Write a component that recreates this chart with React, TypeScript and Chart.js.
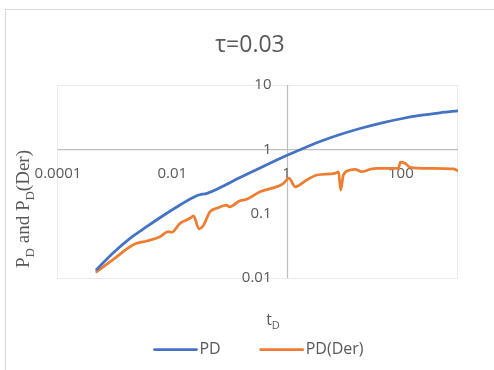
import React, { useEffect, useRef } from "react";
import { Chart, registerables } from "chart.js";

Chart.register(...registerables);

// ---- data ----
const T_PD = [0.000475, 0.000929, 0.00182, 0.00356, 0.00697, 0.01364, 0.0267, 0.0305, 0.0406, 0.153, 0.343, 1.0, 1.72, 3.85, 8.61, 19.3, 43.2, 96.6, 216, 484, 1000];
const PD = [0.01355, 0.0247, 0.0414, 0.0627, 0.0936, 0.1364, 0.19, 0.197, 0.207, 0.365, 0.513, 0.8, 0.987, 1.324, 1.7, 2.11, 2.54, 2.96, 3.36, 3.7, 3.97];

const T_DER = [0.000475, 0.000929, 0.00182, 0.00238, 0.00356, 0.0061, 0.00851, 0.00977, 0.01364, 0.0204, 0.0235, 0.0294, 0.0345, 0.0457, 0.0598, 0.0895, 0.0995, 0.153, 0.2, 0.343, 0.767, 0.9, 1.1, 1.41, 2.25, 3.37, 7.05, 8.11, 8.87, 9.85, 12.9, 15.8, 20.7, 28.8, 37.8, 90.3, 98.6, 118, 145, 324, 828, 1000];
const DER = [0.01253, 0.0195, 0.0306, 0.0346, 0.0376, 0.0438, 0.0525, 0.0513, 0.0708, 0.0847, 0.092, 0.0578, 0.0643, 0.107, 0.121, 0.136, 0.128, 0.159, 0.167, 0.219, 0.274, 0.3, 0.358, 0.262, 0.333, 0.399, 0.424, 0.445, 0.233, 0.399, 0.477, 0.489, 0.449, 0.489, 0.507, 0.507, 0.635, 0.607, 0.526, 0.507, 0.495, 0.466];

const SERIES_LABELS = ["PD", "PD(Der)"];
const X_TICKS = [0.0001, 0.01, 1, 100];
const X_TICK_LABELS = ["0.0001", "0.01", "1", "100"];
const Y_TICKS = [0.01, 0.1, 1, 10];
const Y_TICK_LABELS = ["0.01", "0.1", "1", "10"];
const X_MIN = 0.0001;
const X_MAX = 1000;
const Y_MIN = 0.01;
const Y_MAX = 10;
const X_CROSS = 1;
const Y_CROSS = 1;
const TITLE = "τ=0.03";

const TEXT = "#595959";
const SANS = "'Open Sans', sans-serif";
const SERIF = "'Liberation Serif', 'DejaVu Serif', serif";

function drawRuns(ctx: CanvasRenderingContext2D, runs: [string, boolean][], size: number, fam: string, cx: number, cy: number) {
  const sub = Math.round(size * 0.68);
  let total = 0;
  for (const [t, s] of runs) {
    ctx.font = `${s ? sub : size}px ${fam}`;
    total += ctx.measureText(t).width;
  }
  let x = cx - total / 2;
  ctx.textAlign = "left";
  ctx.textBaseline = "alphabetic";
  for (const [t, s] of runs) {
    ctx.font = `${s ? sub : size}px ${fam}`;
    ctx.fillText(t, x, cy + (s ? size * 0.28 : 0));
    x += ctx.measureText(t).width;
  }
}

const overlay = {
  id: "overlay",
  beforeDatasetsDraw(chart: any) {
    const { ctx, chartArea: a, scales } = chart;
    const xs = scales.x;
    const ys = scales.y;
    ctx.save();
    // outer chart border
    ctx.strokeStyle = "#d9d9d9";
    ctx.lineWidth = 1;
    ctx.strokeRect(5.5, 9.5, 700, 700);
    // plot area border
    ctx.strokeStyle = "#ebebeb";
    ctx.strokeRect(a.left - 0.5, a.top + 0.5, a.right - a.left, a.bottom - a.top);
    // axis lines crossing at 1
    const x0 = Math.round(xs.getPixelForValue(X_CROSS)) + 0.5;
    const y0 = Math.round(ys.getPixelForValue(Y_CROSS)) + 0.5;
    ctx.strokeStyle = "#bfbfbf";
    ctx.lineWidth = 1.25;
    ctx.beginPath();
    ctx.moveTo(x0, a.top);
    ctx.lineTo(x0, a.bottom);
    ctx.moveTo(a.left, y0);
    ctx.lineTo(a.right, y0);
    ctx.stroke();
    // tick labels
    ctx.fillStyle = TEXT;
    ctx.font = `15px ${SANS}`;
    ctx.textAlign = "center";
    ctx.textBaseline = "middle";
    X_TICKS.forEach((v, i) => {
      ctx.fillText(X_TICK_LABELS[i], xs.getPixelForValue(v), y0 + 24);
    });
    ctx.textAlign = "right";
    Y_TICKS.forEach((v, i) => {
      ctx.fillText(Y_TICK_LABELS[i], x0 - 16, ys.getPixelForValue(v));
    });
    ctx.restore();
  },
  afterDraw(chart: any) {
    const { ctx, chartArea: a } = chart;
    ctx.save();
    ctx.fillStyle = TEXT;
    // title
    ctx.font = `23px ${SANS}`;
    ctx.textAlign = "center";
    ctx.textBaseline = "middle";
    ctx.fillText(TITLE, 250, 45);
    // x axis title t_D
    drawRuns(ctx, [["t", false], ["D", true]], 16, SANS, 273, 325);
    // y axis title
    ctx.save();
    ctx.translate(29, 209);
    ctx.rotate(-Math.PI / 2);
    drawRuns(ctx, [["P", false], ["D", true], [" and P", false], ["D", true], ["(Der)", false]], 19, SERIF, 0, 0);
    ctx.restore();
    // legend
    ctx.font = `16px ${SANS}`;
    const lineW = 42;
    const gap = 3;
    const spacing = 40;
    const widths = chart.data.datasets.map((d: any) => lineW + gap + ctx.measureText(d.label).width);
    const total = widths.reduce((s: number, w: number) => s + w, 0) + spacing * (widths.length - 1);
    let lx = (a.left + a.right) / 2 - total / 2 + 1;
    const ly = 349.5;
    chart.data.datasets.forEach((d: any, i: number) => {
      ctx.strokeStyle = d.borderColor;
      ctx.lineWidth = 2.75;
      ctx.lineCap = "round";
      ctx.beginPath();
      ctx.moveTo(lx, ly);
      ctx.lineTo(lx + lineW, ly);
      ctx.stroke();
      ctx.fillStyle = TEXT;
      ctx.textAlign = "left";
      ctx.textBaseline = "middle";
      ctx.fillText(d.label, lx + lineW + gap, ly);
      lx += widths[i] + spacing;
    });
    ctx.restore();
  },
};

export default function App() {
  const ref = useRef<HTMLCanvasElement | null>(null);
  useEffect(() => {
    if (!ref.current) return;
    const chart = new Chart(ref.current, {
      type: "line",
      data: {
        datasets: [
          {
            label: SERIES_LABELS[0],
            data: T_PD.map((t, i) => ({ x: t, y: PD[i] })),
            borderColor: "#4472C4",
            backgroundColor: "#4472C4",
            borderWidth: 2.75,
            pointRadius: 0,
            cubicInterpolationMode: "monotone",
            borderCapStyle: "round",
            borderJoinStyle: "round",
          },
          {
            label: SERIES_LABELS[1],
            data: T_DER.map((t, i) => ({ x: t, y: DER[i] })),
            borderColor: "#ED7D31",
            backgroundColor: "#ED7D31",
            borderWidth: 2.75,
            pointRadius: 0,
            cubicInterpolationMode: "monotone",
            borderCapStyle: "round",
            borderJoinStyle: "round",
          },
        ],
      },
      options: {
        animation: false,
        responsive: false,
        layout: { padding: { left: 58, right: 36, top: 85, bottom: 92 } },
        scales: {
          x: { type: "logarithmic", min: X_MIN, max: X_MAX, display: false },
          y: { type: "logarithmic", min: Y_MIN, max: Y_MAX, display: false },
        },
        plugins: {
          legend: { display: false },
          title: { display: false },
          tooltip: { enabled: false },
        },
      },
      plugins: [overlay],
    });
    return () => chart.destroy();
  }, []);
  return (
    <div style={{ position: "absolute", left: 0, top: 0, width: 494, height: 370, background: "#fff" }}>
      <canvas ref={ref} width={494} height={370} />
    </div>
  );
}
